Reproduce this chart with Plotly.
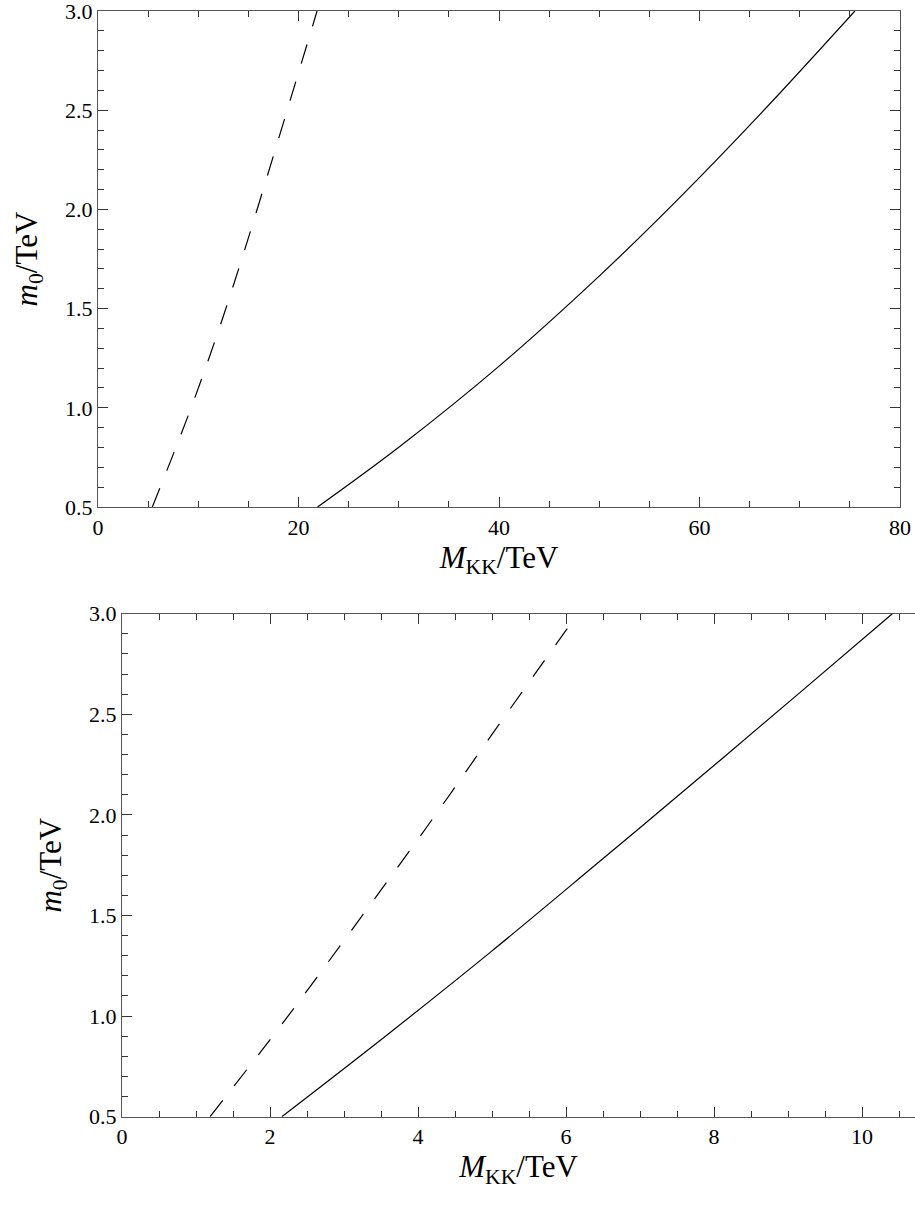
import plotly.graph_objects as go

# ---- data ----
# top panel
top_solid_x = [21.9, 30.1, 40.1, 50.1, 57.7, 66.2, 75.5]
top_solid_y = [0.5, 0.805, 1.214, 1.669, 2.043, 2.488, 3.0]
top_dash_x = [5.42, 9.08, 11.8, 14.3, 19.88, 21.85]
top_dash_y = [0.5, 0.972, 1.357, 1.743, 2.669, 3.0]
# bottom panel
bot_solid_x = [2.16, 3.56, 4.98, 6.40, 7.83, 9.20, 10.41]
bot_solid_y = [0.5, 0.900, 1.318, 1.752, 2.193, 2.620, 3.0]
bot_dash_x = [1.19, 2.20, 3.18, 4.15, 5.10, 6.16]
bot_dash_y = [0.5, 0.979, 1.466, 1.956, 2.452, 3.0]

top_xticks = [0, 20, 40, 60, 80]
bot_xticks = [0, 2, 4, 6, 8, 10]
y_ticks = [0.5, 1.0, 1.5, 2.0, 2.5, 3.0]

W, H = 915, 1207
FONT = "Liberation Serif"

fig = go.Figure()
fig.add_trace(go.Scatter(x=top_solid_x, y=top_solid_y, mode="lines", line=dict(color="black", width=1.2, shape="spline"), xaxis="x", yaxis="y", showlegend=False))
fig.add_trace(go.Scatter(x=top_dash_x, y=top_dash_y, mode="lines", line=dict(color="black", width=1.2, dash="20px,19px", shape="spline"), xaxis="x", yaxis="y", showlegend=False))
fig.add_trace(go.Scatter(x=bot_solid_x, y=bot_solid_y, mode="lines", line=dict(color="black", width=1.2, shape="spline"), xaxis="x2", yaxis="y2", showlegend=False))
fig.add_trace(go.Scatter(x=bot_dash_x, y=bot_dash_y, mode="lines", line=dict(color="black", width=1.2, dash="20px,19px", shape="spline"), xaxis="x2", yaxis="y2", showlegend=False))

tickfont = dict(family=FONT, size=22, color="black")
titlefont = dict(family=FONT, size=31, color="black")
LINEC = "#555555"

def xax(domain, anchor, rng, ticks, minor_dt, title):
    return dict(domain=domain, anchor=anchor, range=rng, tickmode="array", tickvals=ticks,
                ticktext=[str(t) for t in ticks], ticks="inside", ticklen=10, tickwidth=1, tickcolor="#333333",
                minor=dict(dtick=minor_dt, tick0=0, ticks="inside", ticklen=6, tickwidth=1, tickcolor="#333333"),
                showline=True, linecolor=LINEC, linewidth=1.3, mirror="ticks", showgrid=False, zeroline=False,
                tickfont=tickfont, ticklabeloverflow="allow",
                title=dict(text=title, font=titlefont, standoff=4), automargin=False)

def yax(domain, anchor, mirror):
    return dict(domain=domain, anchor=anchor, range=[0.5, 3.0], tickmode="array", tickvals=y_ticks,
                ticktext=["%.1f" % v for v in y_ticks], ticks="inside", ticklen=10, tickwidth=1, tickcolor="#333333",
                minor=dict(dtick=0.1, tick0=0.5, ticks="inside", ticklen=6, tickwidth=1, tickcolor="#333333"),
                showline=True, linecolor=LINEC, linewidth=1.3, mirror=mirror, showgrid=False, zeroline=False,
                tickfont=tickfont, ticklabeloverflow="allow",
                title=dict(text="<i>m</i><sub>0</sub>/TeV", font=titlefont, standoff=18), automargin=False)

top_x0, top_x1, top_yt, top_yb = 98, 900, 11, 507
bot_x0, bot_x1, bot_yt, bot_yb = 122, 915, 613.7, 1116.7
bot_xmax = (bot_x1 - bot_x0) / 74.0

fig.update_layout(
    width=W, height=H, margin=dict(l=0, r=0, t=0, b=0),
    paper_bgcolor="white", plot_bgcolor="white",
    xaxis=xax([top_x0 / W, top_x1 / W], "y", [0, 80], top_xticks, 5, "<i>M</i><sub>KK</sub>/TeV"),
    yaxis=yax([(H - top_yb) / H, (H - top_yt) / H], "x", "ticks"),
    xaxis2=xax([bot_x0 / W, bot_x1 / W], "y2", [0, bot_xmax], bot_xticks, 0.5, "<i>M</i><sub>KK</sub>/TeV"),
    yaxis2=yax([(H - bot_yb) / H, (H - bot_yt) / H], "x2", False),
)

fig.write_html("out.html", config={"displayModeBar": False},
               post_script="document.body.style.margin='0';")
